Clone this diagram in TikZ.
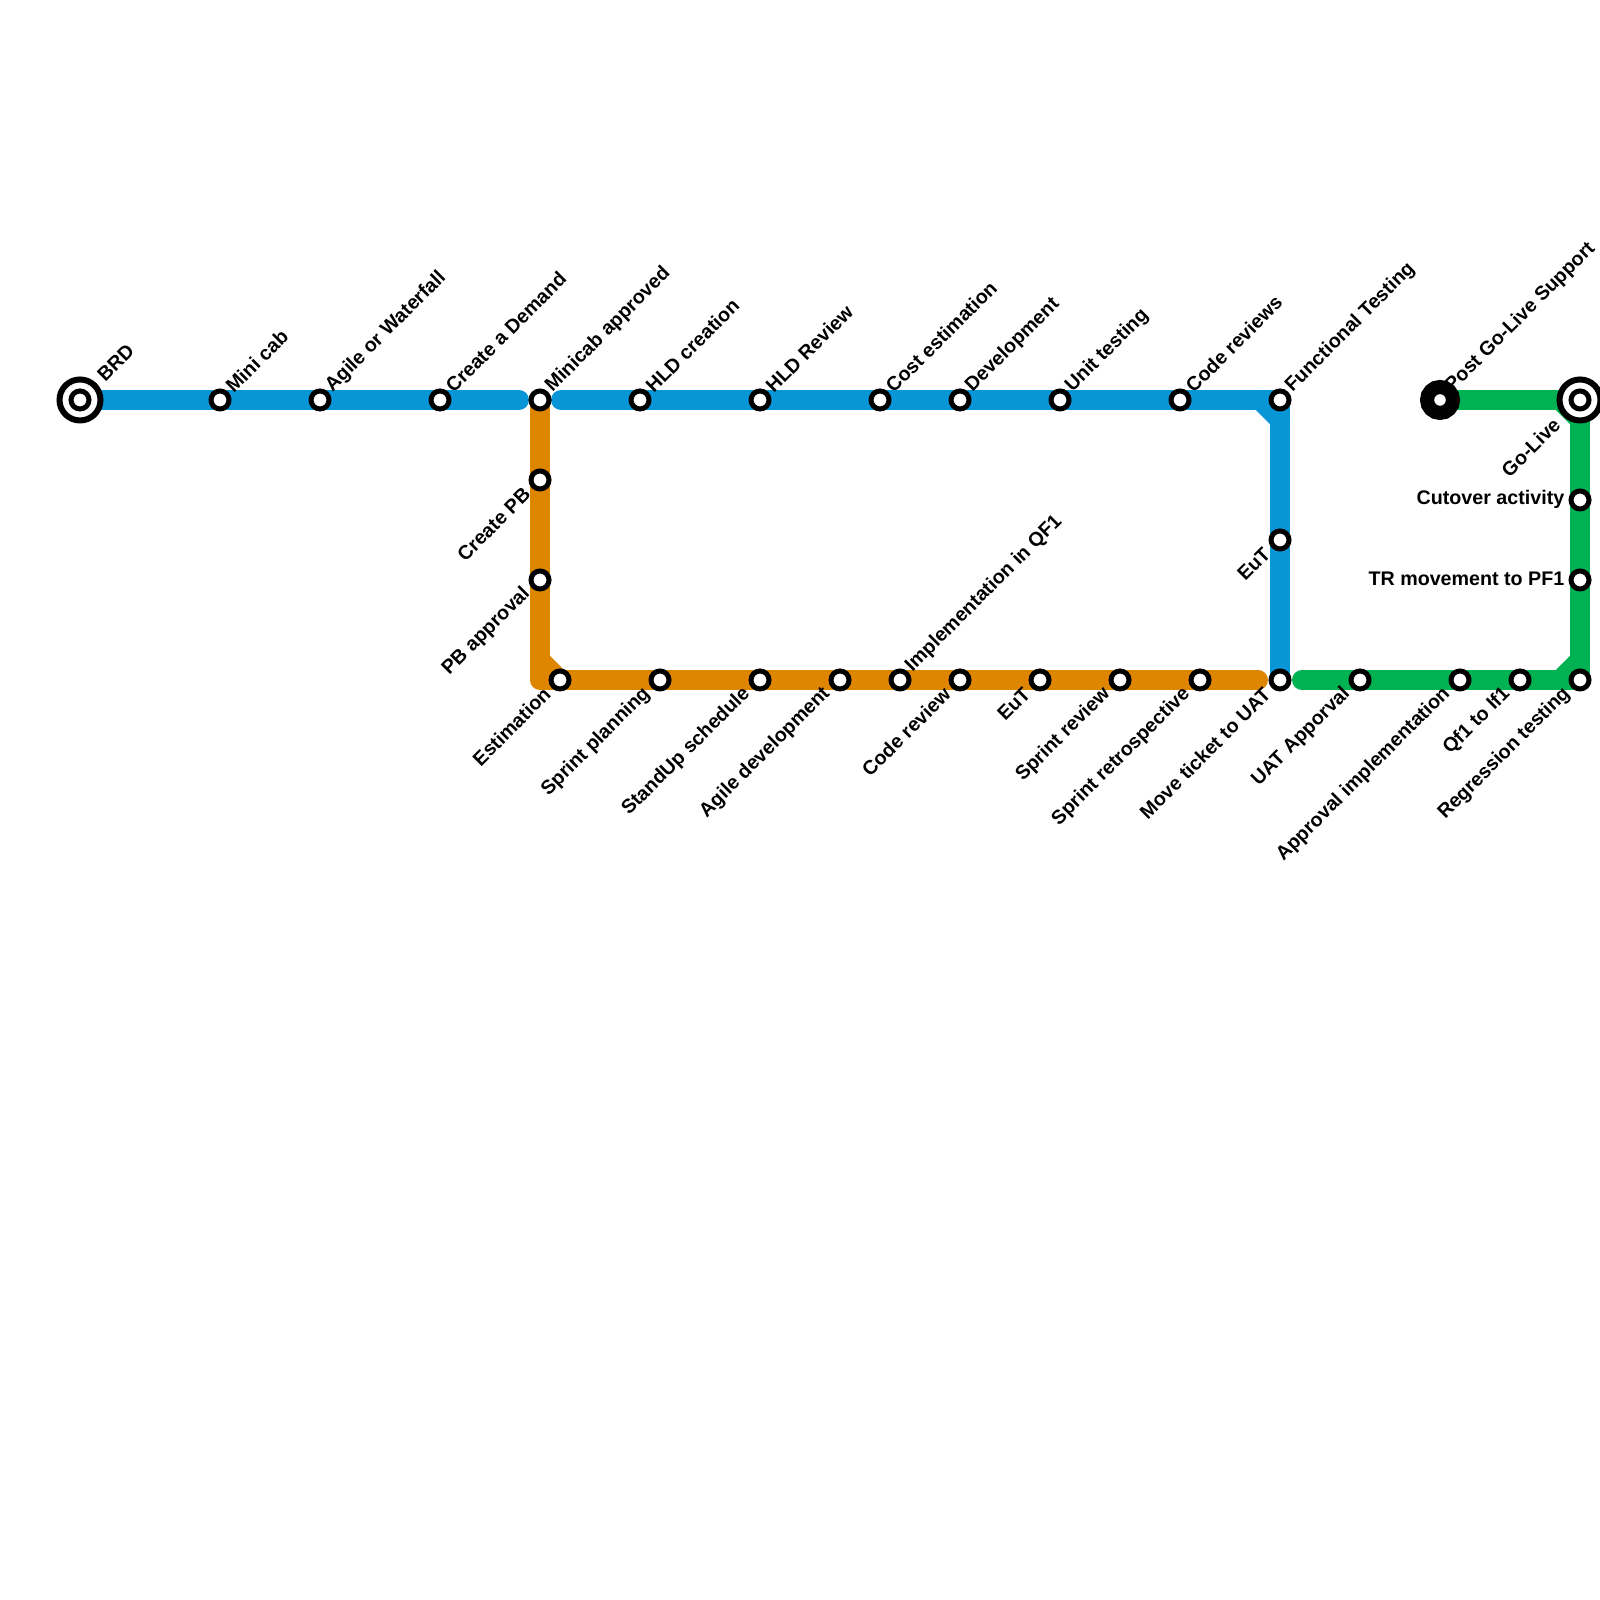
\documentclass[tikz,border=0pt]{standalone}
\usepackage{fontspec}
\setmainfont{Liberation Sans}
\usepackage{tikz}
\usetikzlibrary{backgrounds, calc}
\definecolor{lineblue}{HTML}{0896D7}
\definecolor{lineorange}{HTML}{DF8600}
\definecolor{linegreen}{HTML}{00B251}
\tikzset{
  station/.style={circle,draw=black,fill=white,line width=0.05cm,inner sep=0pt,minimum size=0.18cm},
  termring/.style={circle,draw=black,fill=white,line width=0.06cm,inner sep=0pt,minimum size=0.41cm},
  startdot/.style={circle,draw=black,fill=white,line width=0.14cm,inner sep=0pt,minimum size=0.26cm},
  metro/.style={line width=0.2cm,line cap=round,line join=round},
  lblup/.style={rotate=45,anchor=west,inner sep=0pt,font=\fontsize{5.6}{6.5}\selectfont\bfseries},
  lbldown/.style={rotate=45,anchor=east,inner sep=0pt,font=\fontsize{5.6}{6.5}\selectfont\bfseries},
  lblleft/.style={anchor=east,inner sep=0pt,font=\fontsize{5.6}{6.5}\selectfont\bfseries}
}
\begin{document}
\begin{tikzpicture}
  \useasboundingbox (0,0) rectangle (16,16);
  % top row
  \node[termring] (brdring) at (0.8,12) {};
  \node[station] (brd) at (0.8,12) {};
  \node[station] (minicab) at (2.2,12) {};
  \node[station] (agile) at (3.2,12) {};
  \node[station] (demand) at (4.4,12) {};
  \node[station] (approved) at (5.4,12) {};
  \node[station] (hldcreate) at (6.4,12) {};
  \node[station] (hldreview) at (7.6,12) {};
  \node[station] (cost) at (8.8,12) {};
  \node[station] (develop) at (9.6,12) {};
  \node[station] (unit) at (10.6,12) {};
  \node[station] (codetop) at (11.8,12) {};
  \node[station] (functional) at (12.8,12) {};
  \node[station] (eutright) at (12.8,10.6) {};
  \node[station] (moveuat) at (12.8,9.2) {};
  % orange branch
  \node[station] (createpb) at (5.4,11.2) {};
  \node[station] (pbapprove) at (5.4,10.2) {};
  \node[station] (estimate) at (5.6,9.2) {};
  \node[station] (planning) at (6.6,9.2) {};
  \node[station] (standup) at (7.6,9.2) {};
  \node[station] (agiledev) at (8.4,9.2) {};
  \node[station] (implement) at (9.0,9.2) {};
  \node[station] (codebottom) at (9.6,9.2) {};
  \node[station] (eutbottom) at (10.4,9.2) {};
  \node[station] (sprintrev) at (11.2,9.2) {};
  \node[station] (sprintretro) at (12.0,9.2) {};
  % green branch
  \node[station] (uat) at (13.6,9.2) {};
  \node[station] (approvalimpl) at (14.6,9.2) {};
  \node[station] (qfone) at (15.2,9.2) {};
  \node[station] (regression) at (15.8,9.2) {};
  \node[station] (trmove) at (15.8,10.2) {};
  \node[station] (cutover) at (15.8,11) {};
  \node[termring] (goring) at (15.8,12) {};
  \node[station] (golive) at (15.8,12) {};
  \node[startdot] (postgo) at (14.4,12) {};
  % free ends and bends
  \coordinate (blueend) at (5.19,12);
  \coordinate (bluestart) at (5.61,12);
  \coordinate (orangecorner) at (5.4,9.2);
  \coordinate (orangeend) at (12.58,9.2);
  \coordinate (greenstart) at (13.02,9.2);
  \begin{scope}[on background layer]
    \draw[metro,lineblue] (brd.center)--(blueend);
    \draw[metro,lineblue] (bluestart)--(functional.center)--(moveuat.center);
    \draw[metro,lineblue] ($(functional.center)+(-0.2,0)$)--($(functional.center)+(0,-0.2)$);
    \draw[metro,lineorange] (approved.center)--(orangecorner)--(orangeend);
    \draw[metro,lineorange] ($(orangecorner)+(0,0.2)$)--(estimate.center);
    \draw[metro,linegreen] (greenstart)--(regression.center)--(golive.center)--(postgo.center);
    \draw[metro,linegreen] ($(regression.center)+(-0.2,0)$)--($(regression.center)+(0,0.2)$);
    \draw[metro,linegreen] ($(golive.center)+(-0.2,0)$)--($(golive.center)+(0,-0.2)$);
  \end{scope}
  % labels above
  \node[lblup] (lbrd) at ([shift={(0.2,0.22)}]brd.center) {BRD};
  \node[lblup] (lminicab) at ([shift={(0.085,0.105)}]minicab.center) {Mini cab};
  \node[lblup] (lagile) at ([shift={(0.085,0.105)}]agile.center) {Agile or Waterfall};
  \node[lblup] (ldemand) at ([shift={(0.085,0.105)}]demand.center) {Create a Demand};
  \node[lblup] (lapproved) at ([shift={(0.085,0.105)}]approved.center) {Minicab approved};
  \node[lblup] (lhldcreate) at ([shift={(0.085,0.105)}]hldcreate.center) {HLD creation};
  \node[lblup] (lhldreview) at ([shift={(0.085,0.105)}]hldreview.center) {HLD Review};
  \node[lblup] (lcost) at ([shift={(0.085,0.105)}]cost.center) {Cost estimation};
  \node[lblup] (ldevelop) at ([shift={(0.085,0.105)}]develop.center) {Development};
  \node[lblup] (lunit) at ([shift={(0.085,0.105)}]unit.center) {Unit testing};
  \node[lblup] (lcodetop) at ([shift={(0.085,0.105)}]codetop.center) {Code reviews};
  \node[lblup] (lfunctional) at ([shift={(0.085,0.105)}]functional.center) {Functional Testing};
  \node[lblup] (limplement) at ([shift={(0.085,0.105)}]implement.center) {Implementation in QF1};
  \node[lblup] (lpostgo) at ([shift={(0.085,0.105)}]postgo.center) {Post Go-Live Support};
  % labels below
  \node[lbldown] (lcreatepb) at ([shift={(-0.125,-0.105)}]createpb.center) {Create PB};
  \node[lbldown] (lpbapprove) at ([shift={(-0.125,-0.105)}]pbapprove.center) {PB approval};
  \node[lbldown] (leutright) at ([shift={(-0.125,-0.105)}]eutright.center) {EuT};
  \node[lbldown] (lestimate) at ([shift={(-0.125,-0.105)}]estimate.center) {Estimation};
  \node[lbldown] (lplanning) at ([shift={(-0.125,-0.105)}]planning.center) {Sprint planning};
  \node[lbldown] (lstandup) at ([shift={(-0.125,-0.105)}]standup.center) {StandUp schedule};
  \node[lbldown] (lagiledev) at ([shift={(-0.125,-0.105)}]agiledev.center) {Agile development};
  \node[lbldown] (lcodebottom) at ([shift={(-0.125,-0.105)}]codebottom.center) {Code review};
  \node[lbldown] (leutbottom) at ([shift={(-0.125,-0.105)}]eutbottom.center) {EuT};
  \node[lbldown] (lsprintrev) at ([shift={(-0.125,-0.105)}]sprintrev.center) {Sprint review};
  \node[lbldown] (lsprintretro) at ([shift={(-0.125,-0.105)}]sprintretro.center) {Sprint retrospective};
  \node[lbldown] (lmoveuat) at ([shift={(-0.125,-0.105)}]moveuat.center) {Move ticket to UAT};
  \node[lbldown] (luat) at ([shift={(-0.125,-0.105)}]uat.center) {UAT Apporval};
  \node[lbldown] (lapprovalimpl) at ([shift={(-0.125,-0.105)}]approvalimpl.center) {Approval implementation};
  \node[lbldown] (lqfone) at ([shift={(-0.125,-0.105)}]qfone.center) {Qf1 to If1};
  \node[lbldown] (lregression) at ([shift={(-0.125,-0.105)}]regression.center) {Regression testing};
  \node[lbldown] (lgolive) at ([shift={(-0.23,-0.21)}]golive.center) {Go-Live};
  % labels beside the green line
  \node[lblleft] (lcutover) at ([shift={(-0.15,0.01)}]cutover.center) {Cutover activity};
  \node[lblleft] (ltrmove) at ([shift={(-0.15,0.015)}]trmove.center) {TR movement to PF1};
\end{tikzpicture}
\end{document}
